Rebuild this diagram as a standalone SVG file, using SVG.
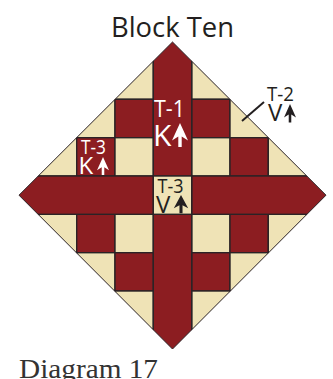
<svg xmlns="http://www.w3.org/2000/svg" width="333" height="379" viewBox="0 0 333 379">
<style>
.m{fill:#8c1d21;stroke:#2b2326;stroke-width:1.4}
.c{fill:#efe3b6;stroke:#2b2326;stroke-width:1.4}
text{font-family:"Open Sans","Noto Sans",sans-serif}
.w{fill:#ffffff}
.k{fill:#231f20}
</style>
<defs>
<clipPath id="d"><polygon points="172.5,42 326,195.2 172.5,349 19,195.2"/></clipPath>
<polygon id="a" points="0,0 8,17.5 1.7,13.5 1.7,24 -1.7,24 -1.7,13.5 -8,17.5"/>
</defs>
<text x="172.5" y="37" font-size="28" text-anchor="middle" class="k" textLength="123" lengthAdjust="spacingAndGlyphs">Block Ten</text>
<g id="quilt">
<g clip-path="url(#d)">
<rect class="c" x="115" y="61" width="38.3" height="38.3"/>
<rect class="c" x="191.7" y="61" width="38.3" height="38.3"/>
<rect class="c" x="76.7" y="99.3" width="38.3" height="38.4"/>
<rect class="m" x="115" y="99.3" width="38.3" height="38.4"/>
<rect class="m" x="191.7" y="99.3" width="38.3" height="38.4"/>
<rect class="c" x="230" y="99.3" width="38.3" height="38.4"/>
<rect class="c" x="38.4" y="137.7" width="38.3" height="38.3"/>
<rect class="m" x="76.7" y="137.7" width="38.3" height="38.3"/>
<rect class="c" x="115" y="137.7" width="38.3" height="38.3"/>
<rect class="c" x="191.7" y="137.7" width="38.3" height="38.3"/>
<rect class="m" x="230" y="137.7" width="38.3" height="38.3"/>
<rect class="c" x="268.3" y="137.7" width="38.3" height="38.3"/>
<rect class="c" x="38.4" y="214.3" width="38.3" height="38.4"/>
<rect class="m" x="76.7" y="214.3" width="38.3" height="38.4"/>
<rect class="c" x="115" y="214.3" width="38.3" height="38.4"/>
<rect class="c" x="191.7" y="214.3" width="38.3" height="38.4"/>
<rect class="m" x="230" y="214.3" width="38.3" height="38.4"/>
<rect class="c" x="268.3" y="214.3" width="38.3" height="38.4"/>
<rect class="c" x="76.7" y="252.7" width="38.3" height="38.3"/>
<rect class="m" x="115" y="252.7" width="38.3" height="38.3"/>
<rect class="m" x="191.7" y="252.7" width="38.3" height="38.3"/>
<rect class="c" x="230" y="252.7" width="38.3" height="38.3"/>
<rect class="c" x="115" y="291" width="38.3" height="38.3"/>
<rect class="c" x="191.7" y="291" width="38.3" height="38.3"/>
<rect class="m" x="153.3" y="30" width="38.4" height="146"/>
<rect class="m" x="153.3" y="214.3" width="38.4" height="146"/>
<rect class="m" x="0" y="176" width="153.3" height="38.3"/>
<rect class="m" x="191.7" y="176" width="141.3" height="38.3"/>
<rect class="c" x="153.3" y="176" width="38.4" height="38.3"/>
</g>
<polygon points="172.5,42 326,195.2 172.5,349 19,195.2" fill="none" stroke="#2b2326" stroke-width="1"/>
</g>
<g id="label-t1">
<text class="w" x="154" y="117" font-size="24.5" textLength="31" lengthAdjust="spacingAndGlyphs">T-1</text>
<text class="w" x="153" y="146" font-size="30">K</text>
<use href="#a" class="w" transform="translate(180,123)"/>
</g>
<g id="label-t3k">
<text class="w" x="81" y="154" font-size="19.5" textLength="25" lengthAdjust="spacingAndGlyphs">T-3</text>
<text class="w" x="78.5" y="174" font-size="24">K</text>
<use href="#a" class="w" transform="translate(103,157) scale(.75)"/>
</g>
<g id="label-t3v">
<text class="k" x="157.500" y="192.500" font-size="19.5" textLength="26" lengthAdjust="spacingAndGlyphs">T-3</text>
<text class="k" x="156" y="213" font-size="24">V</text>
<use href="#a" class="k" transform="translate(181,195) scale(.9,.76)"/>
</g>
<g id="label-t2">
<line x1="242" y1="121" x2="264" y2="102" stroke="#231f20" stroke-width="2"/>
<text class="k" x="267" y="100.500" font-size="19.5" textLength="27" lengthAdjust="spacingAndGlyphs">T-2</text>
<text class="k" x="268" y="121" font-size="24">V</text>
<use href="#a" class="k" transform="translate(290,104) scale(.75,.77)"/>
</g>
<text x="19" y="378" font-size="27" fill="#333333" style="font-family:'Liberation Serif','DejaVu Serif',serif" textLength="139" lengthAdjust="spacingAndGlyphs">Diagram 17</text>
</svg>
